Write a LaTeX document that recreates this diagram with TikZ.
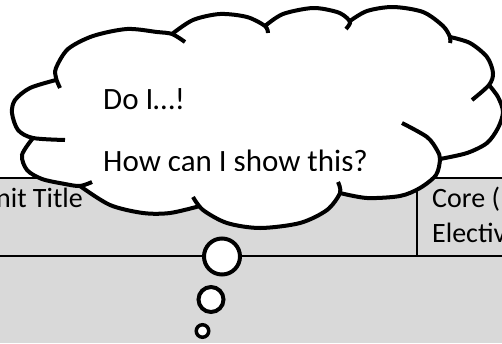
\documentclass[tikz,border=0pt]{standalone}
\usepackage{fontspec}
\setmainfont{Carlito}
\usepackage{tikz}
\definecolor{tablegray}{RGB}{217,217,217}

\begin{document}
\begin{tikzpicture}[x=1pt,y=-1pt,
	tableline/.style={line width=1.5pt},
	cloudline/.style={line width=4pt},
	bubble/.style={circle,draw,fill=white,line width=4pt,inner sep=0pt},
	tabletext/.style={inner sep=0pt,font=\fontsize{28}{34}\selectfont},
	thoughttext/.style={inner sep=0pt,font=\fontsize{31}{37}\selectfont}]
	\useasboundingbox (0,0) rectangle (502,343);
	\begin{scope}
		\clip (0,0) rectangle (502,343);
		\fill[tablegray] (0,178) rectangle (502,343);
		\draw[tableline] (0,178) -- (502,178);
		\draw[tableline] (0,256) -- (502,256);
		\draw[tableline] (417,178) -- (417,256);
		\node[tabletext,anchor=base east] (unittitle) at (83,207) {Unit Title};
		\node[tabletext,anchor=base west] (coretype) at (432,207) {Core (};
		\node[tabletext,anchor=base west] (electtype) at (432,242) {Elective};
		\fill[white] plot[smooth] coordinates {(56,80) (56,68) (68,49) (93,36) (127,29) (157,32) (172,34)}
			-- plot[smooth] coordinates {(172,34) (193,20) (220,14) (247,17) (265,26)}
			-- plot[smooth] coordinates {(265,26) (283,14) (313,8) (337,12) (350,21)}
			-- plot[smooth] coordinates {(350,21) (367,11) (393,7) (423,12) (443,26) (450,37)}
			-- plot[smooth] coordinates {(450,37) (470,43) (487,57) (493,73) (489,85)}
			-- plot[smooth] coordinates {(489,85) (498,97) (503,112) (498,128) (487,143) (467,153) (440,159)}
			-- plot[smooth] coordinates {(440,159) (436,175) (420,188) (400,196) (367,198) (340,193)}
			-- plot[smooth] coordinates {(340,193) (327,210) (300,223) (260,228) (227,223) (203,210) (200,206)}
			-- plot[smooth] coordinates {(200,206) (170,213) (143,213) (110,205) (80,186)}
			-- plot[smooth] coordinates {(80,186) (65,184) (42,179) (27,170) (22,155) (33,138)}
			-- plot[smooth] coordinates {(33,138) (18,130) (12,113) (15,100) (30,88) (56,80)}
			-- cycle;
		\draw[cloudline] plot[smooth] coordinates {(60,88) (56,78) (56,68) (68,49) (93,36) (127,29) (157,32) (172,34) (185,42)};
		\draw[cloudline] plot[smooth] coordinates {(172,34) (193,20) (220,14) (247,17) (265,26) (268,33)};
		\draw[cloudline] plot[smooth] coordinates {(265,26) (283,14) (313,8) (337,12) (347,18) (350,23) (346,29)};
		\draw[cloudline] plot[smooth] coordinates {(350,21) (367,11) (393,7) (423,12) (443,26) (450,37) (450,43)};
		\draw[cloudline] plot[smooth] coordinates {(450,37) (470,43) (487,57) (493,73) (489,85) (472,100)};
		\draw[cloudline] plot[smooth] coordinates {(489,85) (498,97) (503,112) (498,128) (487,143) (467,153) (440,159)};
		\draw[cloudline] plot[smooth] coordinates {(402,123) (427,137) (437,150) (440,159) (436,175) (420,188) (400,196) (367,198) (340,193)};
		\draw[cloudline] plot[smooth] coordinates {(338,182) (340,193) (327,210) (300,223) (260,228) (227,223) (203,210) (193,197)};
		\draw[cloudline] plot[smooth] coordinates {(200,206) (170,213) (143,213) (110,205) (80,186)};
		\draw[cloudline] plot[smooth] coordinates {(92,182) (80,186) (65,184) (42,179) (27,170) (22,155) (33,138)};
		\draw[cloudline] plot[smooth] coordinates {(65,140) (33,138) (18,130) (12,113) (15,100) (30,88) (56,80)};
		\node[thoughttext,anchor=base west] (doi) at (103,109) {Do I…!};
		\begin{scope}
			\clip (0,0) rectangle (502,170);
			\node[thoughttext,anchor=base west] (howshow) at (103,171) {How can I show this?};
		\end{scope}
		\node[bubble,minimum size=36pt] (bubblebig) at (222,256.5) {};
		\node[bubble,minimum size=25pt] (bubblemid) at (211,299.5) {};
		\node[bubble,minimum size=12.5pt,line width=3.5pt] (bubblesmall) at (202.5,331) {};
	\end{scope}
\end{tikzpicture}
\end{document}
